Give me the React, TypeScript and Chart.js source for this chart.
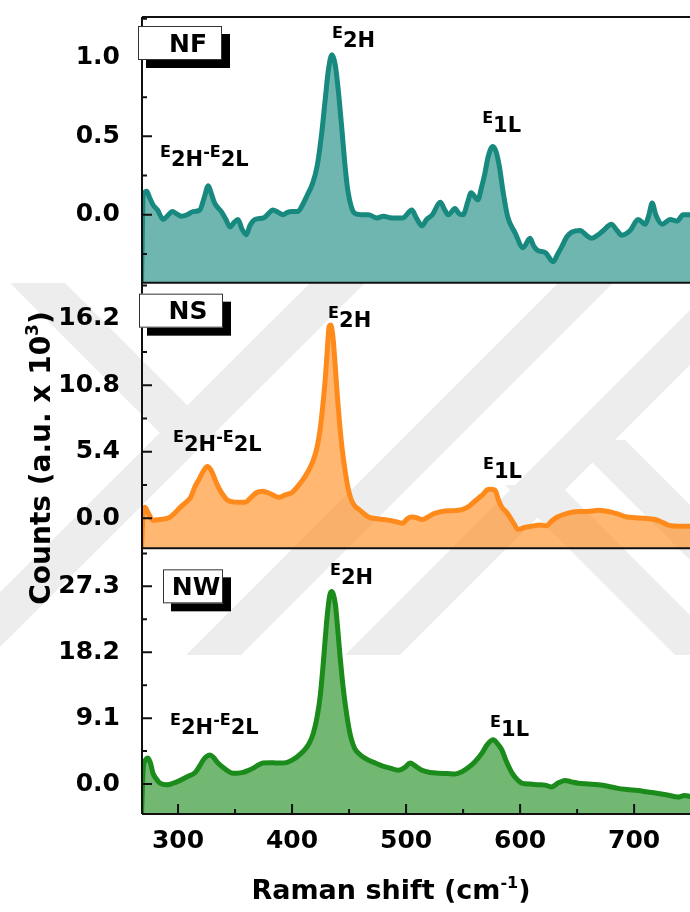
import React, { useEffect, useRef } from 'react';
import { Chart, registerables } from 'chart.js';

Chart.register(...registerables);

const FONT = "'DejaVu Sans', 'Liberation Sans', sans-serif";

// Raman spectra (shift in cm-1, counts in a.u. x 10^3)
const NF_SHIFT = [
  268, 269.5, 272.5, 275, 278, 282, 287, 291, 295, 299, 303, 308, 313, 319, 323, 326.5, 329, 332, 338, 342,
  345.6, 349, 352.6, 356, 360, 363, 367.5, 375, 379, 383, 388, 392, 396, 400, 405, 409, 413, 418, 422, 426,
  429, 432, 435, 438, 441, 444, 446.5, 449, 452, 455, 461, 467, 474.5, 480, 487.5, 497, 505, 509, 514, 518,
  523, 530, 534, 537, 543, 546, 550, 554, 557, 563, 566, 569, 572, 576, 579, 582, 585, 589, 595.6, 602.6,
  608.7, 612, 615.8, 622, 629, 633, 636.8, 641, 645.6, 652.6, 658, 663, 668, 673, 680, 685, 689, 696.5,
  703.5, 709.6, 713, 715.8, 719, 724.6, 731.6, 737.7, 743, 749,
];
const NF_COUNTS = [
  -0.43, 0.13, 0.15, 0.11, 0.064, 0.03, -0.03, -0.005, 0.02, 0.005, -0.01, 0.0, 0.02, 0.03, 0.11, 0.185, 0.14, 0.076, 0.02, -0.03,
  -0.078, -0.05, -0.03, -0.09, -0.127, -0.07, -0.03, -0.02, 0.005, 0.03, 0.015, 0.0, 0.015, 0.02, 0.02, 0.06, 0.12, 0.2, 0.31, 0.52,
  0.73, 0.93, 1.02, 0.95, 0.76, 0.52, 0.31, 0.15, 0.05, 0.01, 0.0, 0.0, -0.02, -0.01, -0.02, -0.02, 0.03, -0.02, -0.07, -0.03,
  0.0, 0.08, 0.03, 0.0, 0.04, 0.01, 0.0, 0.08, 0.14, 0.095, 0.17, 0.26, 0.37, 0.435, 0.4, 0.3, 0.15, -0.01, -0.115, -0.21,
  -0.15, -0.2, -0.23, -0.24, -0.3, -0.25, -0.2, -0.14, -0.11, -0.1, -0.13, -0.15, -0.13, -0.1, -0.06, -0.1, -0.13, -0.1,
  -0.03, -0.06, 0.0, 0.075, 0.0, -0.06, -0.03, -0.04, 0.0, 0.0,
];

const NS_SHIFT = [
  268, 269.5, 271, 274, 278, 284, 288, 293, 298, 302, 307, 311, 315, 318, 322, 325.6, 329, 334, 338, 343,
  347, 351.6, 358.8, 364, 369, 374, 378, 383, 388, 394, 400, 405, 410, 414, 418.6, 422, 424.6, 427, 429, 431,
  432.5, 434, 436, 438, 440, 442, 444, 446, 448, 450, 452, 455, 459, 467, 476, 484, 490, 497, 501, 505,
  509, 514, 520, 525, 534, 541, 549, 554, 558, 563, 568, 571, 573.7, 578, 581, 584, 588, 591, 595, 598,
  604, 610, 617, 623, 628, 632.7, 638, 645.6, 651, 657, 663, 668.5, 674, 680, 687, 694, 701, 709, 718, 724,
  729.8, 738.6, 749,
];
const NS_COUNTS = [
  -2.4, 0.6, 0.9, 0.4, -0.15, -0.1, -0.05, 0.1, 0.5, 0.9, 1.3, 1.7, 2.6, 3.1, 3.8, 4.2, 3.9, 2.8, 2.1, 1.5,
  1.35, 1.3, 1.3, 1.7, 2.1, 2.2, 2.1, 1.9, 1.7, 1.9, 2.1, 2.6, 3.2, 3.8, 4.7, 5.8, 7.2, 9.2, 11.2, 13.8,
  15.6, 15.7, 14.6, 12.2, 9.6, 7.4, 5.6, 4.2, 3.0, 2.1, 1.5, 1.0, 0.7, 0.1, -0.05, -0.15, -0.25, -0.4, -0.05, 0.1,
  0.05, -0.1, 0.15, 0.4, 0.6, 0.62, 0.7, 0.9, 1.2, 1.6, 2.0, 2.3, 2.35, 2.3, 1.5, 0.9, 0.5, 0.1, -0.5, -0.9,
  -0.75, -0.65, -0.55, -0.6, -0.2, 0.1, 0.3, 0.5, 0.55, 0.55, 0.6, 0.65, 0.6, 0.5, 0.3, 0.1, 0.05, 0.0, -0.1, -0.3,
  -0.55, -0.65, -0.65,
];

const NW_SHIFT = [
  268, 269.5, 271, 273.7, 276, 278, 281, 284, 290, 299, 308, 315, 319, 322, 325, 328, 331, 334, 337, 342,
  348, 352, 357, 362, 366, 370, 374.6, 381, 386.8, 391, 395.6, 400, 404, 411, 415, 418.6, 422, 424.6, 427, 429,
  431, 433, 434.5, 436, 438, 440, 442, 444, 446, 448, 450, 452, 455, 460, 467, 473, 479, 486, 493, 499,
  503.5, 508, 514, 521, 528, 536, 543, 549, 554, 560, 566.7, 571, 576.5, 580, 584, 588, 593, 597, 602, 609,
  616, 622, 627.6, 634, 639.5, 645, 651, 660, 668.5, 677, 686, 694, 703.5, 712, 721, 730, 738.6, 744, 749,
];
const NW_COUNTS = [
  -4.1, 2.2, 3.2, 3.6, 2.8, 1.5, 0.7, 0.15, -0.1, 0.3, 1.0, 1.6, 2.5, 3.3, 3.8, 4.0, 3.7, 3.1, 2.6, 2.0,
  1.5, 1.5, 1.6, 1.9, 2.2, 2.6, 2.9, 2.95, 2.9, 2.9, 3.0, 3.3, 3.7, 4.7, 5.6, 7.0, 9.3, 12.0, 16.0, 19.9,
  23.5, 26.0, 26.6, 26.3, 24.8, 21.5, 17.8, 14.5, 11.8, 9.5, 7.6, 6.2, 4.9, 4.0, 3.3, 2.9, 2.5, 2.2, 1.9, 2.3,
  2.9, 2.5, 1.9, 1.6, 1.5, 1.45, 1.4, 1.7, 2.2, 3.0, 4.3, 5.4, 6.1, 5.6, 4.7, 3.1, 1.5, 0.7, 0.1, 0.0,
  -0.1, -0.15, -0.4, 0.2, 0.5, 0.3, 0.1, 0.0, -0.1, -0.3, -0.6, -0.75, -0.9, -1.1, -1.3, -1.55, -1.8, -1.6, -1.7,
];

// axis ticks
const X_TICKS = [300, 400, 500, 600, 700];
const X_MINOR = [350, 450, 550, 650, 750];
const NF_TICKS = [0, 0.5, 1.0];
const NF_MINOR = [-0.25, 0.25, 0.75, 1.25];
const NS_TICKS = [0, 5.4, 10.8, 16.2];
const NS_MINOR = [2.7, 8.1, 13.5, 18.9];
const NW_TICKS = [0, 9.1, 18.2, 27.3];
const NW_MINOR = [4.55, 13.65, 22.75, 31.85];

// peak labels: [shift, counts] of the text's left baseline, then main/subscript pieces
const NF_PEAKS = [
  { x: 435.1, y: 1.127, parts: ['E', '2H'] },
  { x: 284.2, y: 0.369, parts: ['E', '2H', '-E', '2L'] },
  { x: 566.7, y: 0.586, parts: ['E', '1L'] },
];
const NS_PEAKS = [
  { x: 431.6, y: 16.29, parts: ['E', '2H'] },
  { x: 295.6, y: 6.19, parts: ['E', '2H', '-E', '2L'] },
  { x: 567.5, y: 3.99, parts: ['E', '1L'] },
];
const NW_PEAKS = [
  { x: 433.3, y: 28.8, parts: ['E', '2H'] },
  { x: 293.0, y: 8.14, parts: ['E', '2H', '-E', '2L'] },
  { x: 573.7, y: 7.86, parts: ['E', '1L'] },
];

// faint page watermark: diagonal stripes (page pixels), shown through the translucent fills
const WATERMARK_BAND = { top: 283, bottom: 655 };
const WATERMARK_STRIPES: number[][] = [
  [310, 283, 365, 283, -8, 655, -63, 655],
  [10, 283, 65, 283, 220, 438, 165, 438],
  [558, 283, 613, 283, 241, 655, 186, 655],
  [717, 283, 772, 283, 400, 655, 345, 655],
  [570, 440, 625, 440, 840, 655, 785, 655],
  [505, 485, 560, 485, 730, 655, 675, 655],
];

type Panel = {
  id: string;
  name: string;
  shift: number[];
  counts: number[];
  min: number;
  max: number;
  ticks: number[];
  minor: number[];
  peaks: { x: number; y: number; parts: string[] }[];
  line: string;
  fill: string;
  box: { dx: number; dy: number; w: number; tx: number };
};

// listed bottom-up: the stacked layout places the last axis on top
const PANELS: Panel[] = [
  {
    id: 'yNW', name: 'NW', shift: NW_SHIFT, counts: NW_COUNTS, min: -4.14, max: 32.55,
    ticks: NW_TICKS, minor: NW_MINOR, peaks: NW_PEAKS,
    line: '#1b8b1b', fill: 'rgba(27,139,27,0.62)',
    box: { dx: 21, dy: 21, w: 60, tx: 33 },
  },
  {
    id: 'yNS', name: 'NS', shift: NS_SHIFT, counts: NS_COUNTS, min: -2.44, max: 19.14,
    ticks: NS_TICKS, minor: NS_MINOR, peaks: NS_PEAKS,
    line: '#ff8a1c', fill: 'rgba(255,138,28,0.62)',
    box: { dx: -3, dy: 11, w: 84, tx: 49 },
  },
  {
    id: 'yNF', name: 'NF', shift: NF_SHIFT, counts: NF_COUNTS, min: -0.433, max: 1.261,
    ticks: NF_TICKS, minor: NF_MINOR, peaks: NF_PEAKS,
    line: '#17897f', fill: 'rgba(23,137,127,0.62)',
    box: { dx: -4, dy: 9, w: 84, tx: 50 },
  },
];

const X_MIN = 268.4;
const X_MAX = 749;

function drawPeakLabel(ctx: CanvasRenderingContext2D, x: number, y: number, parts: string[]) {
  let cx = x;
  parts.forEach((p, i) => {
    const sub = i % 2 === 1;
    ctx.font = `bold ${sub ? 21 : 16}px ${FONT}`;
    ctx.fillText(p, cx, sub ? y + 9 : y);
    cx += ctx.measureText(p).width;
  });
}

function drawSupText(
  ctx: CanvasRenderingContext2D, x: number, y: number,
  before: string, sup: string, after: string, size: number, supSize: number, rise: number,
) {
  const f = `bold ${size}px ${FONT}`;
  const fs = `bold ${supSize}px ${FONT}`;
  ctx.font = f;
  const w1 = ctx.measureText(before).width;
  const w3 = ctx.measureText(after).width;
  ctx.font = fs;
  const w2 = ctx.measureText(sup).width;
  let cx = x - (w1 + w2 + w3) / 2;
  ctx.font = f;
  ctx.fillText(before, cx, y);
  cx += w1;
  ctx.font = fs;
  ctx.fillText(sup, cx, y - rise);
  cx += w2;
  ctx.font = f;
  ctx.fillText(after, cx, y);
}

// drawn first so every axis label and curve sits above it
const watermark = {
  id: 'watermark',
  beforeDraw(chart: any) {
    const ctx: CanvasRenderingContext2D = chart.ctx;
    ctx.save();
    ctx.beginPath();
    ctx.rect(0, WATERMARK_BAND.top, chart.width, WATERMARK_BAND.bottom - WATERMARK_BAND.top);
    ctx.clip();
    ctx.fillStyle = '#ededed';
    for (const s of WATERMARK_STRIPES) {
      ctx.beginPath();
      ctx.moveTo(s[0], s[1]);
      ctx.lineTo(s[2], s[3]);
      ctx.lineTo(s[4], s[5]);
      ctx.lineTo(s[6], s[7]);
      ctx.closePath();
      ctx.fill();
    }
    ctx.restore();
  },
};

const decorations = {
  id: 'decorations',
  afterDatasetsDraw(chart: any) {
    const ctx: CanvasRenderingContext2D = chart.ctx;
    const area = chart.chartArea;
    const xs = chart.scales.x;
    ctx.save();
    ctx.strokeStyle = '#111';
    ctx.fillStyle = '#000';
    ctx.lineWidth = 2;

    // frame: left spine, panel separators
    ctx.beginPath();
    ctx.moveTo(area.left, area.top);
    ctx.lineTo(area.left, area.bottom);
    for (const p of PANELS) {
      const s = chart.scales[p.id];
      ctx.moveTo(area.left, s.top);
      ctx.lineTo(area.right, s.top);
      ctx.moveTo(area.left, s.bottom);
      ctx.lineTo(area.right, s.bottom);
    }
    ctx.stroke();

    // inward tick marks
    ctx.beginPath();
    for (const p of PANELS) {
      const s = chart.scales[p.id];
      for (const v of p.ticks) {
        const py = s.getPixelForValue(v);
        ctx.moveTo(area.left, py);
        ctx.lineTo(area.left + 10, py);
      }
      for (const v of p.minor) {
        const py = s.getPixelForValue(v);
        ctx.moveTo(area.left, py);
        ctx.lineTo(area.left + 5, py);
      }
    }
    for (const v of X_TICKS) {
      const px = xs.getPixelForValue(v);
      ctx.moveTo(px, area.bottom);
      ctx.lineTo(px, area.bottom - 10);
    }
    for (const v of X_MINOR) {
      const px = xs.getPixelForValue(v);
      if (px > area.right) continue;
      ctx.moveTo(px, area.bottom);
      ctx.lineTo(px, area.bottom - 5);
    }
    ctx.stroke();

    // sample name boxes with drop shadow
    for (const p of PANELS) {
      const s = chart.scales[p.id];
      const bx = area.left + p.box.dx;
      const by = s.top + p.box.dy;
      ctx.fillStyle = '#000';
      ctx.fillRect(bx + 8, by + 8, p.box.w, 34);
      ctx.fillStyle = '#fff';
      ctx.fillRect(bx, by, p.box.w, 34);
      ctx.lineWidth = 1;
      ctx.strokeStyle = '#333';
      ctx.strokeRect(bx + 0.5, by + 0.5, p.box.w - 1, 33);
      ctx.fillStyle = '#000';
      ctx.font = `bold 25px ${FONT}`;
      ctx.textAlign = 'center';
      ctx.textBaseline = 'middle';
      ctx.fillText(p.name, bx + p.box.tx, by + 19);
    }

    // phonon mode labels
    ctx.textAlign = 'left';
    ctx.textBaseline = 'alphabetic';
    ctx.fillStyle = '#000';
    for (const p of PANELS) {
      const s = chart.scales[p.id];
      for (const pk of p.peaks) {
        drawPeakLabel(ctx, xs.getPixelForValue(pk.x), s.getPixelForValue(pk.y), pk.parts);
      }
    }

    // axis titles
    drawSupText(ctx, 391, 899, 'Raman shift (cm', '-1', ')', 27, 16, 11);
    ctx.save();
    ctx.translate(50, 458);
    ctx.rotate(-Math.PI / 2);
    drawSupText(ctx, 0, 0, 'Counts (a.u. x 10', '3', ')', 28, 17, 12);
    ctx.restore();

    ctx.restore();
  },
};

export default function App() {
  const ref = useRef<HTMLCanvasElement | null>(null);

  useEffect(() => {
    if (!ref.current) return;
    const tickFont = { family: FONT, size: 25, weight: 'bold' as const };

    const scales: any = {
      x: {
        type: 'linear',
        position: 'bottom',
        min: X_MIN,
        max: X_MAX,
        afterFit: (s: any) => {
          s.height = 98;
          s.paddingLeft = 0;
          s.paddingRight = 0;
        },
        afterBuildTicks: (s: any) => { s.ticks = X_TICKS.map((v) => ({ value: v })); },
        grid: { display: false },
        border: { display: false },
        ticks: { font: tickFont, color: '#000', padding: 4, maxRotation: 0, callback: (v: any) => String(v) },
      },
    };
    for (const p of PANELS) {
      scales[p.id] = {
        type: 'linear',
        position: 'left',
        stack: 'panels',
        stackWeight: 1,
        offset: false,
        min: p.min,
        max: p.max,
        afterFit: (s: any) => {
          s.width = 142;
          s.paddingTop = 0;
          s.paddingBottom = 0;
        },
        afterBuildTicks: (s: any) => { s.ticks = p.ticks.map((v) => ({ value: v })); },
        grid: { display: false },
        border: { display: false },
        ticks: { font: tickFont, color: '#000', padding: 14, callback: (v: any) => Number(v).toFixed(1) },
      };
    }

    const chart = new Chart(ref.current, {
      type: 'line',
      data: {
        datasets: PANELS.map((p) => ({
          label: p.name,
          data: p.shift.map((x, i) => ({ x, y: p.counts[i] })),
          xAxisID: 'x',
          yAxisID: p.id,
          borderColor: p.line,
          backgroundColor: p.fill,
          borderWidth: 5,
          fill: 'start',
          pointRadius: 0,
          cubicInterpolationMode: 'monotone' as const,
          borderJoinStyle: 'round' as const,
          borderCapStyle: 'round' as const,
        })),
      },
      options: {
        responsive: false,
        animation: false,
        events: [],
        layout: { padding: { top: 17, right: 0, bottom: 0, left: 0 } },
        plugins: { legend: { display: false }, tooltip: { enabled: false } },
        scales,
      },
      plugins: [watermark, decorations],
    });
    return () => chart.destroy();
  }, []);

  return (
    <div style={{ position: 'absolute', left: 0, top: 0, width: 690, height: 912, background: '#fff', overflow: 'hidden' }}>
      <canvas ref={ref} width={690} height={912} style={{ display: 'block' }} />
    </div>
  );
}
